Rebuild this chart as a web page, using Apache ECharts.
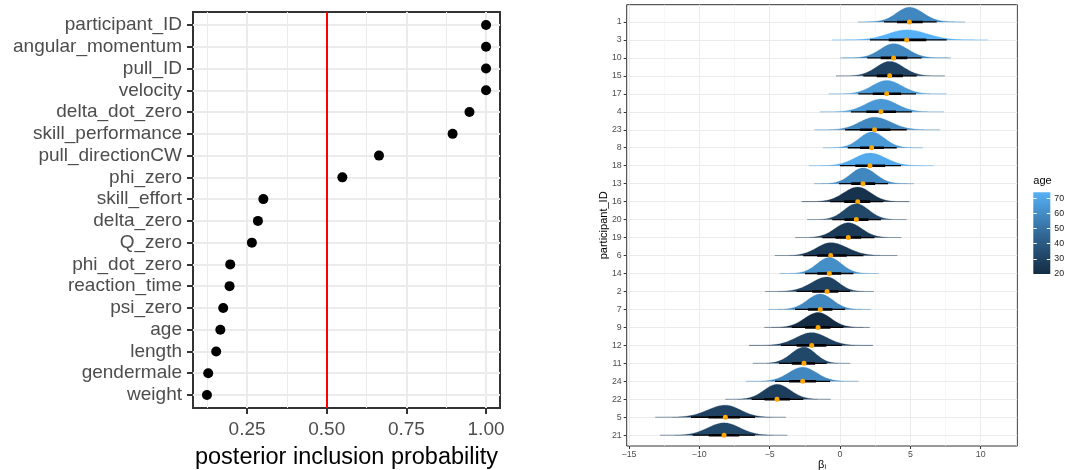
<!DOCTYPE html>
<html><head><meta charset="utf-8">
<script src="https://cdn.jsdelivr.net/npm/echarts@6/dist/echarts.min.js"></script>
<style>html,body{margin:0;padding:0;background:#fff}#c{width:1065px;height:470px}</style>
</head><body><div id="c"></div>
<script>
// ---------- Left panel data ----------
const predictors = ['participant_ID','angular_momentum','pull_ID','velocity','delta_dot_zero','skill_performance','pull_directionCW','phi_zero','skill_effort','delta_zero','Q_zero','phi_dot_zero','reaction_time','psi_zero','age','length','gendermale','weight'];
const pip = [1.00,1.00,1.00,1.00,0.948,0.895,0.664,0.549,0.301,0.284,0.265,0.197,0.195,0.175,0.166,0.153,0.128,0.124];
const pipTicks = [0.25,0.50,0.75,1.00];
const pipMinorTicks = [0.125,0.375,0.625,0.875];
const threshold = 0.5;

// ---------- Right panel data ----------
const participants = ['1','3','10','15','17','4','23','8','18','13','16','20','19','6','14','2','7','9','12','11','24','22','5','21'];
const ages       = [58,74,58,30,65,64,58,65,71,58,23,32,26,26,61,30,58,20,30,32,58,28,30,32];
const betaMedian = [4.93,4.74,3.81,3.53,3.32,2.91,2.46,2.25,2.13,1.63,1.26,1.16,0.59,-0.66,-0.76,-0.92,-1.40,-1.56,-2.01,-2.56,-2.65,-4.48,-8.15,-8.24];
const betaLo95   = [3.13,2.13,1.94,1.66,1.30,0.78,0.36,0.55,0.00,-0.07,-0.70,-0.55,-1.26,-2.61,-2.49,-3.08,-3.20,-3.43,-4.19,-4.34,-4.62,-6.28,-10.59,-10.47];
const betaHi95   = [6.87,7.58,5.80,5.45,5.40,5.10,4.74,4.03,4.34,3.41,3.07,2.91,2.44,1.66,0.95,0.71,0.36,0.24,0.12,-0.95,-0.71,-2.61,-6.04,-6.04];
const betaLo66   = [4.05,3.46,2.89,2.61,2.33,1.87,1.43,1.42,1.09,0.80,0.30,0.32,-0.32,-1.62,-1.61,-1.98,-2.28,-2.48,-3.08,-3.43,-3.62,-5.36,-9.35,-9.33];
const betaHi66   = [5.88,6.13,4.79,4.47,4.34,3.98,3.58,3.12,3.21,2.50,2.15,2.02,1.50,0.48,0.08,-0.12,-0.54,-0.68,-0.97,-1.77,-1.70,-3.56,-7.12,-7.16];
const betaTicks = [-15,-10,-5,0,5,10];
const betaMinorTicks = [-12.5,-7.5,-2.5,2.5,7.5,12.5];
const ageTicks = [20,30,40,50,60,70];

// ---------- helpers ----------
const FONT = '"Liberation Sans", Arial, sans-serif';
const palette = ['#132B43','#336A98','#56B1F7'];
const nP = predictors.length, nB = participants.length;
const ageMin = Math.min(...ages), ageMax = Math.max(...ages);
const pipLo = Math.min(...pip), pipHi = Math.max(...pip);
const pipPad = 0.05*(pipHi-pipLo);
const slabScale = 0.9;
const idxP = predictors.map((_,i)=>i);
const idxB = participants.map((_,i)=>i);

function sds(k){ return [(betaMedian[k]-betaLo95[k])/1.96, (betaHi95[k]-betaMedian[k])/1.96]; }
function peakDens(sL,sR){ return 2/(Math.sqrt(2*Math.PI)*(sL+sR)); }
let maxPeak = 0;
idxB.forEach(k=>{ const s=sds(k); maxPeak=Math.max(maxPeak, peakDens(s[0],s[1])); });
const minus = v => String(v).replace('-', '\u2212');

const ridgeData = idxB.map(k => [betaMedian[k], nB-1-k, ages[k], betaLo95[k], betaHi95[k], betaLo66[k], betaHi66[k]]);

function renderRidge(params, api){
  const med=api.value(0), v=api.value(1), lo95=api.value(3), hi95=api.value(4), lo66=api.value(5), hi66=api.value(6);
  const sL=(med-lo95)/1.96, sR=(hi95-med)/1.96;
  const h = slabScale*peakDens(sL,sR)/maxPeak;
  const pts=[]; const N=140;
  const a=med-4*sL, b=med+4*sR;
  for(let j=0;j<=N;j++){
    const x=a+(b-a)*j/N;
    const z = x<med ? (x-med)/sL : (x-med)/sR;
    pts.push(api.coord([x, v + h*Math.exp(-0.5*z*z)]));
  }
  pts.push(api.coord([b, v])); pts.push(api.coord([a, v]));
  const color = api.visual('color');
  const p0=api.coord([lo95,v]), p1=api.coord([hi95,v]);
  const q0=api.coord([lo66,v]), q1=api.coord([hi66,v]);
  const c=api.coord([med,v]);
  return {type:'group', children:[
    {type:'polygon', shape:{points:pts}, style:{fill:color, stroke:color, lineWidth:0.3}},
    {type:'line', shape:{x1:p0[0],y1:p0[1],x2:p1[0],y2:p1[1]}, style:{stroke:'#000', lineWidth:1.3}},
    {type:'line', shape:{x1:q0[0],y1:q0[1],x2:q1[0],y2:q1[1]}, style:{stroke:'#000', lineWidth:2.6}},
    {type:'circle', shape:{cx:c[0], cy:c[1], r:2.5}, style:{fill:'#FFA500'}}
  ]};
}

function renderBar(params, api){
  const p0=api.coord([0, api.value(1)]), p1=api.coord([1, api.value(0)]);
  return {type:'rect', shape:{x:p0[0], y:p0[1], width:p1[0]-p0[0], height:p1[1]-p0[1]},
    style:{fill:new echarts.graphic.LinearGradient(0,0,0,1,[
      {offset:0,color:palette[2]},{offset:0.5,color:palette[1]},{offset:1,color:palette[0]}])}};
}

const noLine = {show:false, onZero:false};
const chart = echarts.init(document.getElementById('c'), null, {renderer:'canvas'});
chart.setOption({
  animation:false,
  textStyle:{fontFamily:FONT},
  grid:[
    {left:193, top:12, width:307, height:396, show:true, borderColor:'#333333', borderWidth:2, backgroundColor:'transparent', outerBoundsMode:'none', containLabel:false},
    {left:626.7, top:4.7, width:390.6, height:441.3, show:true, borderColor:'#333333', borderWidth:1, backgroundColor:'transparent', outerBoundsMode:'none', containLabel:false},
    {left:1033.3, top:192.3, width:17, height:81.7, outerBoundsMode:'none', containLabel:false}
  ],
  visualMap:{type:'continuous', show:false, seriesIndex:1, dimension:2, min:ageMin, max:ageMax, inRange:{color:palette}},
  xAxis:[
    {gridIndex:0, type:'value', min:pipLo-pipPad, max:pipHi+pipPad,
     axisLine:noLine,
     axisTick:{customValues:pipTicks, length:6, lineStyle:{color:'#333333', width:2}},
     axisLabel:{customValues:pipTicks, formatter:v=>v.toFixed(2), fontSize:19, color:'#4D4D4D', margin:12, fontFamily:FONT},
     splitLine:{show:true, lineStyle:{color:'#EBEBEB', width:2}},
     name:'posterior inclusion probability', nameLocation:'middle', nameGap:38, nameMoveOverlap:false,
     nameTextStyle:{fontSize:23.5, color:'#000', fontFamily:FONT}},
    {gridIndex:0, type:'value', min:pipLo-pipPad, max:pipHi+pipPad, position:'bottom',
     axisLine:noLine, axisTick:{show:false, customValues:pipMinorTicks}, axisLabel:{show:false, customValues:pipMinorTicks},
     splitLine:{show:true, lineStyle:{color:'#EBEBEB', width:1}}},
    {gridIndex:1, type:'value', min:-15.16, max:12.6,
     axisLine:noLine,
     axisTick:{customValues:betaTicks, length:3, lineStyle:{color:'#333333', width:1}},
     axisLabel:{customValues:betaTicks, formatter:minus, fontSize:8.8, color:'#4D4D4D', margin:4, fontFamily:FONT},
     splitLine:{show:true, lineStyle:{color:'#EBEBEB', width:1}},
     name:'{b|\u03B2}{i|i}', nameLocation:'middle', nameGap:13, nameMoveOverlap:false,
     nameTextStyle:{fontSize:11, color:'#000', fontFamily:FONT,
       rich:{b:{fontSize:11, lineHeight:12, color:'#000', fontFamily:FONT},
             i:{fontSize:7, lineHeight:7, verticalAlign:'bottom', color:'#000', fontFamily:FONT}}}},
    {gridIndex:1, type:'value', min:-15.16, max:12.6, position:'bottom',
     axisLine:noLine, axisTick:{show:false, customValues:betaMinorTicks}, axisLabel:{show:false, customValues:betaMinorTicks},
     splitLine:{show:true, lineStyle:{color:'#F2F2F2', width:0.6}}},
    {gridIndex:2, type:'value', min:0, max:1, show:false, axisLine:noLine}
  ],
  yAxis:[
    {gridIndex:0, type:'value', inverse:true, min:-0.6, max:nP-1+0.6,
     axisLine:noLine,
     axisTick:{customValues:idxP, length:6, lineStyle:{color:'#333333', width:2}},
     axisLabel:{customValues:idxP, formatter:v=>predictors[v], fontSize:19, color:'#4D4D4D', margin:11, fontFamily:FONT},
     splitLine:{show:true, lineStyle:{color:'#EBEBEB', width:2}}},
    {gridIndex:1, type:'value', min:-0.6, max:nB-1+0.96,
     axisLine:noLine,
     axisTick:{customValues:idxB, length:3, lineStyle:{color:'#333333', width:1}},
     axisLabel:{customValues:idxB, formatter:v=>participants[nB-1-v], fontSize:8.8, color:'#4D4D4D', margin:5, fontFamily:FONT},
     splitLine:{show:true, lineStyle:{color:'#EBEBEB', width:1}},
     name:'participant_ID', nameLocation:'middle', nameGap:17, nameMoveOverlap:false,
     nameTextStyle:{fontSize:11, color:'#000', fontFamily:FONT}},
    {gridIndex:2, type:'value', min:ageMin, max:ageMax, position:'left', z:10,
     axisLine:noLine,
     axisTick:{inside:true, customValues:ageTicks, length:3.5, lineStyle:{color:'#FFFFFF', width:1}},
     axisLabel:{show:false, customValues:ageTicks}, splitLine:{show:false},
     name:'age', nameLocation:'end', nameGap:6, nameMoveOverlap:false,
     nameTextStyle:{fontSize:11, color:'#000', align:'left', fontFamily:FONT}},
    {gridIndex:2, type:'value', min:ageMin, max:ageMax, position:'right', z:10,
     axisLine:noLine,
     axisTick:{inside:true, customValues:ageTicks, length:3.5, lineStyle:{color:'#FFFFFF', width:1}},
     axisLabel:{customValues:ageTicks, fontSize:8.8, color:'#1A1A1A', margin:4, fontFamily:FONT},
     splitLine:{show:false}}
  ],
  series:[
    {type:'scatter', xAxisIndex:0, yAxisIndex:0, data:pip.map((v,i)=>[v,i]), symbolSize:10,
     itemStyle:{color:'#000', opacity:1}, z:3,
     markLine:{silent:true, symbol:'none', label:{show:false}, animation:false,
       lineStyle:{color:'#FF0000', width:2, type:'solid'}, data:[{xAxis:threshold}]}},
    {type:'custom', xAxisIndex:2, yAxisIndex:1, data:ridgeData, renderItem:renderRidge, encode:{x:0,y:1}, clip:true},
    {type:'custom', xAxisIndex:4, yAxisIndex:2, data:[[ageMin, ageMax]], renderItem:renderBar, z:1}
  ]
});
</script>
</body></html>
